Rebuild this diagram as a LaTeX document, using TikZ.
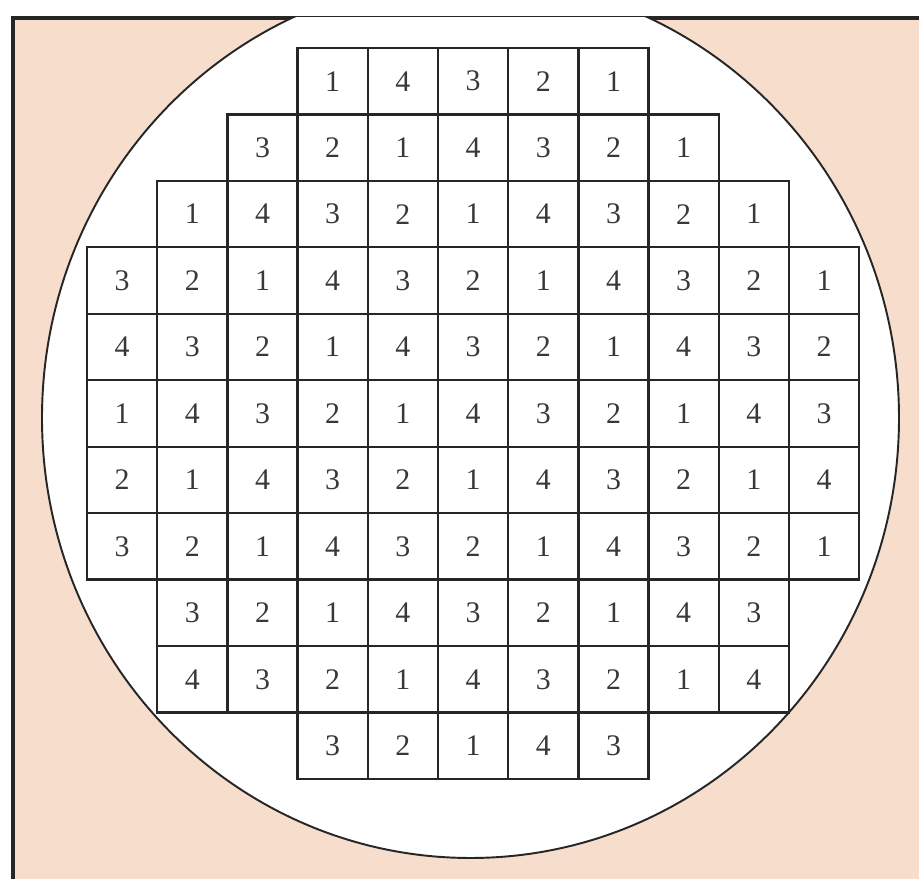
\documentclass[tikz,border=0pt]{standalone}
\usepackage{fontspec}
\setmainfont{Liberation Serif}

\definecolor{waferbg}{RGB}{246,221,204}

\tikzset{
  die/.style={draw=black!85,line width=1.3pt,minimum width=1.404cm,minimum height=1.329cm,
    inner sep=0pt,text=black!78,font=\fontsize{17}{20}\selectfont}
}

\begin{document}
\begin{tikzpicture}
        \useasboundingbox (0,0) rectangle (18.38,17.58);

        % 1. Background panel
        \coordinate (panelsw) at (0.26,0);
        \coordinate (panelne) at (18.38,17.22);
        \fill[waferbg] (panelsw) rectangle (panelne);
        \draw[line width=2pt,black!85] (panelsw) |- (panelne);

        % 2. Wafer outline, cut by the panel top
        \begin{scope}
          \clip (panelsw) rectangle (panelne);
          \filldraw[fill=white,draw=black!85,line width=1.1pt] (9.41,9.22) ellipse (8.57 and 8.8);
        \end{scope}

        % 3. Dies: row / first column / labels
        \foreach \row/\first/\vals in {0/3/{1,4,3,2,1},
                                       1/2/{3,2,1,4,3,2,1},
                                       2/1/{1,4,3,2,1,4,3,2,1},
                                       3/0/{3,2,1,4,3,2,1,4,3,2,1},
                                       4/0/{4,3,2,1,4,3,2,1,4,3,2},
                                       5/0/{1,4,3,2,1,4,3,2,1,4,3},
                                       6/0/{2,1,4,3,2,1,4,3,2,1,4},
                                       7/0/{3,2,1,4,3,2,1,4,3,2,1},
                                       8/1/{3,2,1,4,3,2,1,4,3},
                                       9/1/{4,3,2,1,4,3,2,1,4},
                                       10/3/{3,2,1,4,3}} {
          \foreach \v [count=\i from 0] in \vals {
            \pgfmathtruncatemacro\col{\first+\i}
            \node (die-\row-\col) [die] at ({1.74+(\col+0.5)*1.404},{16.62-(\row+0.5)*1.329}) {\v};
          }
        }

    \end{tikzpicture}
\end{document}
